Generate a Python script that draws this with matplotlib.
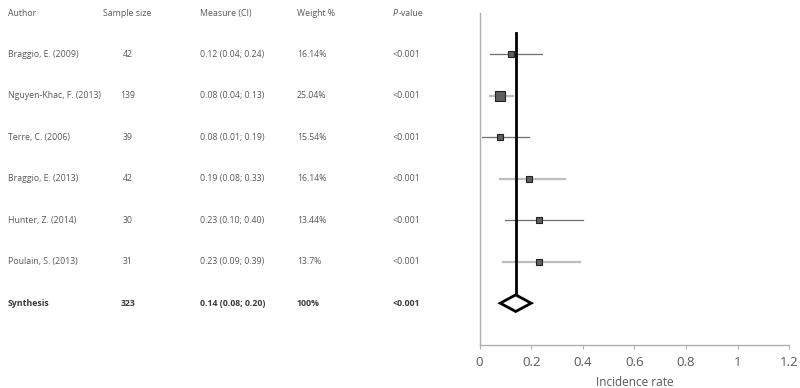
import numpy as np
import matplotlib
matplotlib.use("Agg")
import matplotlib.pyplot as plt
from matplotlib.transforms import blended_transform_factory
from matplotlib.patches import Polygon

authors = ["Braggio, E. (2009)", "Nguyen-Khac, F. (2013)", "Terre, C. (2006)",
           "Braggio, E. (2013)", "Hunter, Z. (2014)", "Poulain, S. (2013)"]
sample_size = [42, 139, 39, 42, 30, 31]
measure = [0.12, 0.08, 0.08, 0.19, 0.23, 0.23]
ci_low = [0.04, 0.04, 0.01, 0.08, 0.10, 0.09]
ci_high = [0.24, 0.13, 0.19, 0.33, 0.40, 0.39]
weight = [16.14, 25.04, 15.54, 16.14, 13.44, 13.7]
weight_lbl = ["16.14%", "25.04%", "15.54%", "16.14%", "13.44%", "13.7%"]
p_value = ["<0.001"] * 6

syn_n = 323
syn_measure = 0.14
syn_low = 0.08
syn_high = 0.20

xticks = [0, 0.2, 0.4, 0.6, 0.8, 1, 1.2]

plt.rcParams['font.family'] = ['Open Sans', 'DejaVu Sans']
gray_txt = "#595959"

fig = plt.figure(figsize=(8, 3.88), dpi=100)
ax = fig.add_axes([0.5995, 0.1116, 0.3871, 0.8541])

rows = np.arange(1, len(authors) + 1)
syn_row = len(authors) + 1

# CI lines alternate dark thin / light thick like the original
for i, y in enumerate(rows):
    if i % 2 == 0:
        ax.plot([ci_low[i], ci_high[i]], [y, y], color="#6f6f6f", linewidth=0.9, zorder=1)
    else:
        ax.plot([ci_low[i], ci_high[i]], [y, y], color="#bdbdbd", linewidth=1.6, zorder=1)

# summary line
ax.plot([syn_measure, syn_measure], [0.5, syn_row - 0.2], color="black", linewidth=2, zorder=2)

for i, y in enumerate(rows):
    ax.plot(measure[i], y, marker="s", markersize=0.29 * weight[i],
            markerfacecolor="#5f5f5f", markeredgecolor="#222222", markeredgewidth=0.8,
            linestyle="none", zorder=3)

diamond = Polygon([[syn_low, syn_row], [syn_measure, syn_row - 0.2],
                   [syn_high, syn_row], [syn_measure, syn_row + 0.2]],
                  closed=True, facecolor="white", edgecolor="black", linewidth=2, zorder=4)
ax.add_patch(diamond)

ax.set_xlim(0, 1.2)
ax.set_ylim(8, 0.02)
ax.set_xticks(xticks)
ax.set_xticklabels([f"{t:g}" for t in xticks])
ax.set_yticks([])
for s in ["top", "right"]:
    ax.spines[s].set_visible(False)
for s in ["left", "bottom"]:
    ax.spines[s].set_color("#b0b0b0")
    ax.spines[s].set_linewidth(1)
ax.tick_params(axis="x", colors="#b0b0b0", labelcolor=gray_txt, labelsize=9.5,
               length=3, direction="out", pad=5)
ax.set_xlabel("Incidence rate", color=gray_txt, fontsize=8.5, labelpad=5)

# table on the left
tr = blended_transform_factory(fig.transFigure, ax.transData)
fs = 6.3
cols_x = [0.010, 0.129, 0.250, 0.371, 0.491]
header_y = 0.03
ax.text(cols_x[0], header_y, "Author", transform=tr, fontsize=fs, color=gray_txt, va="center", clip_on=False)
ax.text(cols_x[1], header_y, "Sample size", transform=tr, fontsize=fs, color=gray_txt, va="center", clip_on=False)
ax.text(cols_x[2], header_y, "Measure (CI)", transform=tr, fontsize=fs, color=gray_txt, va="center", clip_on=False)
ax.text(cols_x[3], header_y, "Weight %", transform=tr, fontsize=fs, color=gray_txt, va="center", clip_on=False)
ax.text(cols_x[4], header_y, "P", transform=tr, fontsize=fs, color=gray_txt, va="center",
        style="italic", clip_on=False)
ax.text(cols_x[4] + 0.0068, header_y, "-value", transform=tr, fontsize=fs, color=gray_txt,
        va="center", clip_on=False)

for i, y in enumerate(rows):
    ax.text(cols_x[0], y, authors[i], transform=tr, fontsize=fs, color=gray_txt, va="center", clip_on=False)
    ax.text(0.160, y, str(sample_size[i]), transform=tr, fontsize=fs, color=gray_txt,
            va="center", ha="center", clip_on=False)
    ax.text(cols_x[2], y, f"{measure[i]:.2f} ({ci_low[i]:.2f}; {ci_high[i]:.2f})",
            transform=tr, fontsize=fs, color=gray_txt, va="center", clip_on=False)
    ax.text(cols_x[3], y, weight_lbl[i], transform=tr, fontsize=fs, color=gray_txt, va="center", clip_on=False)
    ax.text(cols_x[4], y, p_value[i], transform=tr, fontsize=fs, color=gray_txt, va="center", clip_on=False)

bold_col = "#3a3a3a"
ax.text(cols_x[0], syn_row, "Synthesis", transform=tr, fontsize=fs, color=bold_col,
        va="center", fontweight="bold", clip_on=False)
ax.text(0.160, syn_row, str(syn_n), transform=tr, fontsize=fs, color=bold_col,
        va="center", ha="center", fontweight="bold", clip_on=False)
ax.text(cols_x[2], syn_row, f"{syn_measure:.2f} ({syn_low:.2f}; {syn_high:.2f})", transform=tr,
        fontsize=fs, color=bold_col, va="center", fontweight="bold", clip_on=False)
ax.text(cols_x[3], syn_row, "100%", transform=tr, fontsize=fs, color=bold_col,
        va="center", fontweight="bold", clip_on=False)
ax.text(cols_x[4], syn_row, "<0.001", transform=tr, fontsize=fs, color=bold_col,
        va="center", fontweight="bold", clip_on=False)

fig.savefig("out.png", dpi=100)
